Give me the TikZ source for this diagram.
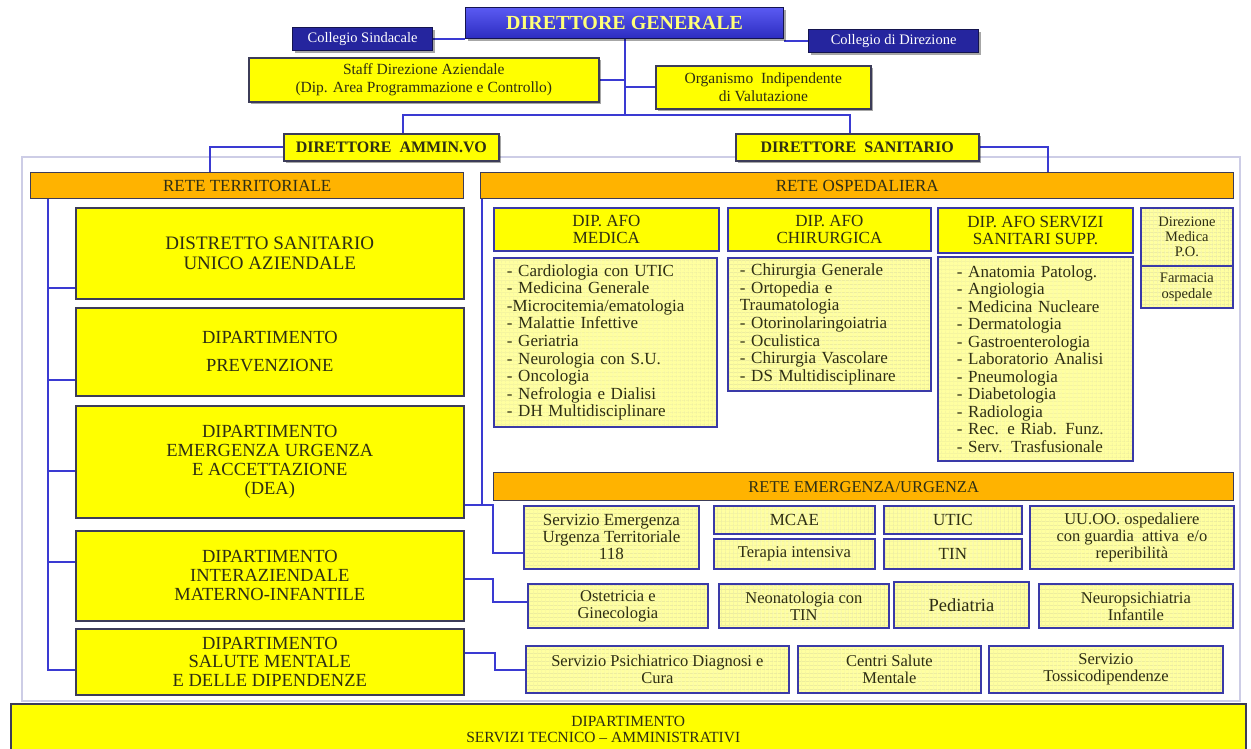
\documentclass[tikz,border=0pt]{standalone}
\usepackage{fontspec}
\setmainfont{Liberation Serif}
\usetikzlibrary{patterns.meta,shadows,backgrounds}
\definecolor{ylw}{HTML}{FFFF00}
\definecolor{lyl}{HTML}{FFFFA0}
\definecolor{gridc}{HTML}{E4E49C}
\definecolor{orng}{HTML}{FFB300}
\definecolor{bord}{HTML}{3C3C58}
\definecolor{lbord}{HTML}{3A3AA8}
\definecolor{conncol}{HTML}{3A3AD2}
\definecolor{framec}{HTML}{CDCDE6}
\definecolor{txt}{HTML}{2E2E14}
\definecolor{dgtop}{HTML}{5A5AF2}
\definecolor{dgbot}{HTML}{2C2CC0}
\definecolor{dgtxt}{HTML}{FFFF78}
\definecolor{colfill}{HTML}{25259E}
\definecolor{colbord}{HTML}{14144E}
\newcommand\fsz[2]{\fontsize{#1}{#2}\selectfont}
\newcommand\bx[6]{\node[#1,anchor=north west,minimum width=#5-#3,minimum height=#6-#4] (#2) at (#3,#4)}
\begin{document}
\begin{tikzpicture}[x=1pt,y=-1pt,
  every node/.style={text=txt,inner sep=2pt},
  shad/.style={drop shadow={shadow xshift=2.5pt,shadow yshift=-2.5pt,opacity=0.35,fill=black}},
  ybox/.style={draw=bord,line width=1.6pt,fill=ylw,align=center},
  obox/.style={draw=bord,line width=1.4pt,fill=orng,align=center},
  hbox/.style={draw=lbord,line width=1.8pt,fill=ylw,align=center},
  lbox/.style={draw=lbord,line width=1.8pt,
     preaction={fill=lyl},
     preaction={pattern={Lines[distance=4pt,angle=0,line width=0.35pt]},pattern color=gridc},
     preaction={pattern={Lines[distance=4pt,angle=90,line width=0.35pt]},pattern color=gridc},
     align=center},
  cbox/.style={draw=colbord,line width=1.2pt,fill=colfill,text=white,align=center},
  dgbox/.style={draw=colbord,line width=1.2pt,top color=dgtop,bottom color=dgbot,text=dgtxt,align=center},
  conn/.style={draw=conncol,line width=2pt}]
\useasboundingbox (0,0) rectangle (1251,748);

% ---- top
\bx{dgbox,shad,font=\fsz{20}{22}\bfseries}{dg}{465}{7}{783}{38}{DIRETTORE GENERALE};
\bx{cbox,shad,font=\fsz{14.5}{16}}{cs}{292}{27}{432}{50}{Collegio Sindacale};
\bx{cbox,shad,font=\fsz{14.5}{16}}{cd}{808}{29}{978}{52}{Collegio di Direzione};
\bx{ybox,shad,font=\fsz{15.5}{18}}{staff}{248}{57}{598}{101}{Staff Direzione Aziendale\\(Dip. Area Programmazione e Controllo)};
\bx{ybox,shad,font=\fsz{15.5}{18}}{org}{655}{65}{870}{108}{Organismo\ \ Indipendente\\di Valutazione};
\bx{ybox,shad,font=\fsz{16}{18}\bfseries}{adm}{283}{133}{498}{160}{DIRETTORE\ \ AMMIN.VO};
\bx{ybox,shad,font=\fsz{16}{18}\bfseries}{san}{735}{133}{978}{160}{DIRETTORE\ \ SANITARIO};

% ---- rete territoriale
\bx{obox,font=\fsz{17}{18}}{terr}{30}{172}{463}{198}{RETE TERRITORIALE};
\bx{ybox,font=\fsz{19}{20.5}}{d1}{75}{207}{463}{298}{DISTRETTO SANITARIO\\UNICO AZIENDALE};
\bx{ybox,font=\fsz{18.5}{19}}{d2}{75}{307}{463}{395}{DIPARTIMENTO\\[9pt]PREVENZIONE};
\bx{ybox,font=\fsz{18.5}{19}}{d3}{75}{405}{463}{517}{DIPARTIMENTO\\EMERGENZA URGENZA\\E ACCETTAZIONE\\(DEA)};
\bx{ybox,font=\fsz{18.5}{19}}{d4}{75}{530}{463}{620}{DIPARTIMENTO\\INTERAZIENDALE\\MATERNO-INFANTILE};
\bx{ybox,font=\fsz{18.5}{18.8}}{d5}{75}{628}{463}{694}{DIPARTIMENTO\\SALUTE MENTALE\\E DELLE DIPENDENZE};

% ---- rete ospedaliera
\bx{obox,font=\fsz{17}{18}}{osp}{480}{172}{1233}{198}{RETE OSPEDALIERA};
\bx{hbox,font=\fsz{17}{17.7}}{hmed}{493}{207}{718}{250}{DIP. AFO\\MEDICA};
\bx{hbox,font=\fsz{17}{17.7}}{hchi}{727}{207}{930}{250}{DIP. AFO\\CHIRURGICA};
\bx{hbox,font=\fsz{17}{17.7}}{hser}{937}{207}{1132}{252}{DIP. AFO SERVIZI\\SANITARI SUPP.};
\bx{lbox,inner xsep=13pt,text width=197pt,align=left,font=\fsz{17}{17.6}}{lmed}{493}{257}{716}{426}{%
- Cardiologia con UTIC\\- Medicina Generale\\-Microcitemia/ematologia\\- Malattie Infettive\\- Geriatria\\- Neurologia con S.U.\\- Oncologia\\- Nefrologia e Dialisi\\- DH Multidisciplinare};
\bx{lbox,inner xsep=12pt,text width=179pt,align=left,font=\fsz{17}{17.6}}{lchi}{727}{257}{930}{390}{%
- Chirurgia Generale\\- Ortopedia e\\Traumatologia\\- Otorinolaringoiatria\\- Oculistica\\- Chirurgia Vascolare\\- DS Multidisciplinare};
\bx{lbox,inner xsep=19pt,text width=157pt,align=left,font=\fsz{17}{17.5}}{lser}{937}{256}{1132}{460}{%
- Anatomia Patolog.\\- Angiologia\\- Medicina Nucleare\\- Dermatologia\\- Gastroenterologia\\- Laboratorio Analisi\\- Pneumologia\\- Diabetologia\\- Radiologia\\- Rec. e Riab. Funz.\\- Serv. Trasfusionale};
\bx{lbox,font=\fsz{14.5}{15}}{dirmed}{1140}{207}{1232}{265}{Direzione\\Medica\\P.O.};
\bx{lbox,font=\fsz{14.5}{16}}{farm}{1140}{265}{1232}{307}{Farmacia\\ospedale};

% ---- rete emergenza
\bx{obox,font=\fsz{16.5}{18}}{emer}{493}{472}{1233}{500}{RETE EMERGENZA/URGENZA};
\bx{lbox,font=\fsz{17}{17}}{seut}{523}{505}{698}{568}{Servizio Emergenza\\Urgenza Territoriale\\118};
\bx{lbox,font=\fsz{17}{17}}{mcae}{713}{505}{874}{533}{MCAE};
\bx{lbox,font=\fsz{16.5}{17}}{tera}{713}{538}{874}{568}{Terapia intensiva};
\bx{lbox,font=\fsz{17}{17}}{utic}{883}{505}{1021}{533}{UTIC};
\bx{lbox,font=\fsz{17}{17}}{tin}{883}{538}{1021}{568}{TIN};
\bx{lbox,font=\fsz{16.5}{17}}{uuoo}{1029}{505}{1233}{568}{UU.OO. ospedaliere\\con guardia\ \ attiva\ \ e/o\\reperibilità};
\bx{lbox,font=\fsz{16.5}{17}}{ost}{527}{583}{707}{627}{Ostetricia e\\Ginecologia};
\bx{lbox,font=\fsz{16.5}{17}}{neo}{718}{583}{888}{627}{Neonatologia con\\TIN};
\bx{lbox,font=\fsz{18.5}{19}}{ped}{893}{581}{1028}{627}{Pediatria};
\bx{lbox,font=\fsz{16.5}{17}}{neu}{1038}{583}{1232}{627}{Neuropsichiatria\\Infantile};
\bx{lbox,font=\fsz{16.5}{17}}{psi}{525}{645}{788}{692}{Servizio Psichiatrico Diagnosi e\\Cura};
\bx{lbox,font=\fsz{16.5}{17}}{csm}{797}{645}{980}{692}{Centri Salute\\Mentale};
\bx{lbox,font=\fsz{16.5}{17}}{tox}{988}{645}{1222}{692}{Servizio\\Tossicodipendenze};

% ---- bottom
\bx{ybox,font=\fsz{15.5}{15.5}}{sta}{10}{703}{1245}{754}{DIPARTIMENTO\\SERVIZI TECNICO -- AMMINISTRATIVI\hspace*{50pt}};

% ---- background: frame and connectors
\begin{scope}[on background layer]
\fill[white] (0,0) rectangle (1251,748);
\draw[framec,line width=1.2pt] (22,157) rectangle (1240,701);
\draw[conn] (cs.east) -- (cs.east -| dg.west);
\draw[conn] (cd.west) -- (cd.west -| dg.east);
\coordinate (hub) at (dg.south |- 0,115);
\draw[conn] (dg.south) -- (hub);
\draw[conn] (staff.east) -- (staff.east -| hub);
\draw[conn] (org.west -| hub) -- (org.west);
\coordinate (hl) at (403,115);
\coordinate (hr) at (850,115);
\draw[conn] (adm.north -| hl) -- (hl) -- (hr) -- (san.north -| hr);
\coordinate (al) at (210,0);
\draw[conn] (adm.west) -| (al |- terr.north);
\coordinate (sr) at (1048,0);
\draw[conn] (san.east) -| (sr |- osp.north);
% left spine
\coordinate (ls) at (48,0);
\draw[conn] (ls |- terr.south) -- (ls |- 0,670) -- (d5.west |- 0,670);
\draw[conn] (ls |- 0,288) -- (d1.west |- 0,288);
\draw[conn] (ls |- 0,380) -- (d2.west |- 0,380);
\draw[conn] (ls |- 0,471) -- (d3.west |- 0,471);
\draw[conn] (ls |- 0,562) -- (d4.west |- 0,562);
% right links
\coordinate (rv) at (482,0);
\draw[conn] (rv |- osp.south) -- (rv |- 0,505);
\draw[conn] (d3.east |- 0,505) -- (493,505) -- (493,553) -- (seut.west |- 0,553);
\draw[conn] (d4.east |- 0,579) -- (493,579) -- (493,602) -- (ost.west |- 0,602);
\draw[conn] (d5.east |- 0,653) -- (495,653) -- (495,670) -- (psi.west |- 0,670);
\end{scope}
\end{tikzpicture}
\end{document}
